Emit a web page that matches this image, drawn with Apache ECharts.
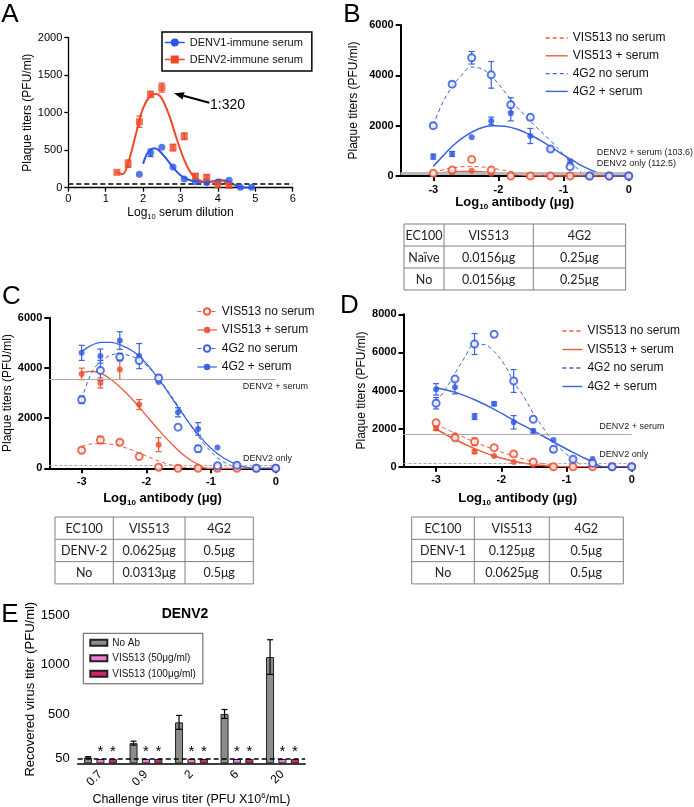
<!DOCTYPE html>
<html><head><meta charset="utf-8">
<script src="https://cdn.jsdelivr.net/npm/echarts@6/dist/echarts.min.js"></script>
<style>html,body{margin:0;padding:0;background:#fff}#c{width:694px;height:807px}</style>
</head><body><div id="c"></div>
<script>
// ================= DATA =================
// Panel A
const aX1 = [1.9, 2.2, 2.5, 2.8, 3.1, 3.4, 3.7, 4.0, 4.3, 4.6, 4.9];
const aDenv1 = [180, 465, 540, 275, 115, 80, 70, 75, 100, 5, 5];
const aDenv1Err = [0, 50, 0, 0, 0, 0, 0, 0, 0, 0, 0];
const aX2 = [1.3, 1.6, 1.9, 2.2, 2.5, 2.8, 3.1, 3.4, 3.7, 4.0, 4.3];
const aDenv2 = [205, 320, 880, 1245, 1335, 535, 685, 155, 140, 40, 30];
const aDenv2Err = [0, 50, 75, 40, 60, 45, 45, 30, 30, 0, 0];
const aFit1X = [2.0, 2.1, 2.2, 2.3, 2.4, 2.6, 2.8, 3.0, 3.2, 3.4, 3.6, 3.8, 4.0, 4.2, 4.4, 4.6, 4.9];
const aFit1Y = [320, 450, 505, 525, 505, 400, 270, 165, 110, 85, 75, 80, 95, 95, 50, 5, 0];
const aFit2X = [1.3, 1.45, 1.6, 1.8, 2.0, 2.2, 2.35, 2.5, 2.7, 2.9, 3.1, 3.3, 3.5, 3.7, 3.9, 4.05, 4.2, 4.3];
const aFit2Y = [205, 180, 330, 700, 1060, 1230, 1250, 1190, 960, 650, 370, 180, 100, 70, 85, 110, 70, 20];
const aLimit = 50;

// shared antibody dilution positions (log10 ug)
const abX = [-3, -2.71, -2.41, -2.11, -1.81, -1.51, -1.2, -0.9, -0.6, -0.3, 0];
const abTicks = [-3, -2, -1, 0];

// Panel B
const b4G2No = [2000, 3650, 4700, 4020, 2830, 2330, 1070, 370, 0, 0, 0];
const b4G2NoErr = [100, 100, 250, 530, 280, 100, 0, 0, 0, 0, 0];
const b4G2Ser = [770, 875, 1540, 2190, 2490, 1590, 1070, 545, 0, 0, 0];
const b4G2SerErr = [100, 100, 0, 150, 300, 300, 0, 120, 0, 0, 0];
const bVisNo = [110, 240, 660, 240, 0, 0, 0, 0, 0, 0, 0];
const bVisSer = [80, 150, 210, 90, 0, 0, 0, 0, 0, 0, 0];
const bFit4G2NoX = [-3, -2.85, -2.71, -2.55, -2.42, -2.25, -2.1, -1.95, -1.8, -1.5, -1.2, -0.92, -0.75, -0.65];
const bFit4G2NoY = [2030, 2950, 3550, 4050, 4330, 4250, 3950, 3500, 3000, 2150, 1400, 640, 200, 0];
const bFit4G2SerX = [-3, -2.85, -2.7, -2.5, -2.3, -2.1, -1.9, -1.7, -1.5, -1.3, -1.1, -0.9, -0.7, -0.5, -0.32, 0];
const bFit4G2SerY = [380, 800, 1200, 1600, 1880, 2000, 1980, 1850, 1620, 1330, 1000, 680, 380, 150, 0, 0];
const bFitVisNoX = [-3, -2.8, -2.6, -2.45, -2.3, -2.1, -1.9, -1.7, -1.5, -1.3, -1.1, 0];
const bFitVisNoY = [130, 280, 360, 380, 370, 310, 220, 130, 60, 15, 0, 0];
const bFitVisSerX = [-3, -2.8, -2.6, -2.4, -2.2, -2.0, -1.8, -1.6, -1.4, 0];
const bFitVisSerY = [90, 150, 180, 180, 160, 120, 70, 30, 0, 0];
const bRefSerum = 103.6, bRefOnly = 112.5;
const bTable = [['EC100', 'VIS513', '4G2'], ['Naïve', '0.0156μg', '0.25μg'], ['No', '0.0156μg', '0.25μg']];

// Panel C
const c4G2Ser = [4600, 4470, 5090, 4470, 3440, 2230, 1570, 830, 150, 0, 0];
const c4G2SerErr = [300, 280, 350, 500, 0, 180, 250, 0, 0, 0, 0];
const c4G2No = [2730, 3900, 4430, 4290, 3600, 1640, 780, 100, 120, 0, 0];
const c4G2NoErr = [150, 400, 150, 0, 120, 0, 130, 0, 0, 0, 0];
const cVisSer = [3760, 3400, 3940, 2540, 940, 40, 0, 0, 0, 0, 0];
const cVisSerErr = [230, 200, 400, 200, 280, 0, 0, 0, 0, 0, 0];
const cVisNo = [720, 1130, 1040, 470, 40, 0, 0, 0, 0, 0, 0];
const cVisNoErr = [100, 150, 60, 0, 0, 0, 0, 0, 0, 0, 0];
const cFit4G2SerX = [-3, -2.85, -2.7, -2.55, -2.4, -2.2, -2.0, -1.8, -1.6, -1.4, -1.2, -1.0, -0.8, -0.6, -0.45, -0.3, 0];
const cFit4G2SerY = [4650, 4900, 5020, 5020, 4920, 4650, 4180, 3520, 2780, 2030, 1350, 800, 400, 150, 40, 0, 0];
const cFit4G2NoX = [-3, -2.9, -2.8, -2.71, -2.6, -2.45, -2.3, -2.1, -1.9, -1.7, -1.5, -1.3, -1.1, -0.9, -0.7, -0.55, 0];
const cFit4G2NoY = [2750, 3500, 4000, 4250, 4450, 4560, 4520, 4300, 3850, 3200, 2450, 1650, 950, 420, 120, 0, 0];
const cFitVisSerX = [-3, -2.85, -2.7, -2.55, -2.4, -2.2, -2.0, -1.8, -1.6, -1.4, -1.2, -1.05, 0];
const cFitVisSerY = [3820, 3860, 3780, 3550, 3220, 2700, 2100, 1500, 950, 480, 150, 0, 0];
const cFitVisNoX = [-3, -2.85, -2.7, -2.5, -2.3, -2.1, -1.9, -1.7, -1.5, -1.3, -1.15, 0];
const cFitVisNoY = [880, 970, 990, 940, 800, 600, 380, 190, 70, 10, 0, 0];
const cRefSerum = 3550, cRefOnly = 130;
const cTable = [['EC100', 'VIS513', '4G2'], ['DENV-2', '0.0625μg', '0.5μg'], ['No', '0.0313μg', '0.5μg']];

// Panel D
const d4G2No = [3330, 4600, 6440, 6950, 4500, 2490, 910, 390, 180, 0, 0];
const d4G2NoErr = [300, 0, 550, 0, 600, 0, 150, 0, 0, 0, 0];
const d4G2Ser = [4060, 4170, 2630, 3300, 2330, 1870, 1400, 380, 400, 0, 0];
const d4G2SerErr = [300, 350, 150, 100, 350, 100, 0, 0, 0, 0, 0];
const dVisNo = [2310, 1520, 1310, 1000, 670, 250, 0, 0, 0, 0, 0];
const dVisNoErr = [0, 0, 200, 0, 100, 0, 0, 0, 0, 0, 0];
const dVisSer = [2010, 1650, 790, 560, 250, 90, 0, 0, 0, 0, 0];
const dVisSerErr = [100, 0, 100, 0, 0, 0, 0, 0, 0, 0, 0];
const dFit4G2NoX = [-3, -2.85, -2.71, -2.55, -2.41, -2.25, -2.11, -1.95, -1.81, -1.65, -1.51, -1.35, -1.2, -1.05, -0.9, -0.75];
const dFit4G2NoY = [3400, 4100, 4900, 5800, 6440, 6400, 6050, 5350, 4450, 3650, 2800, 2000, 1310, 800, 400, 0];
const dFit4G2SerX = [-3, -2.7, -2.4, -2.1, -1.8, -1.5, -1.2, -0.9, -0.6, -0.45, 0];
const dFit4G2SerY = [4150, 3900, 3500, 3000, 2420, 1870, 1300, 750, 250, 0, 0];
const dFitVisNoX = [-3, -2.71, -2.41, -2.11, -1.81, -1.51, -1.2, -1.0, 0];
const dFitVisNoY = [2250, 1750, 1300, 900, 560, 270, 60, 0, 0];
const dFitVisSerX = [-3, -2.71, -2.41, -2.11, -1.81, -1.51, -1.25, -1.1, 0];
const dFitVisSerY = [1980, 1430, 950, 560, 290, 110, 20, 0, 0];
const dRefSerum = 1700, dRefOnly = 180;
const dTable = [['EC100', 'VIS513', '4G2'], ['DENV-1', '0.125μg', '0.5μg'], ['No', '0.0625μg', '0.5μg']];

// Panel E
const eCats = ['0.7', '0.9', '2', '6', '20'];
const eNoAb = [60, 205, 415, 500, 1075];
const eNoAbErr = [8, 20, 70, 45, 175];
const eVis50 = [45, 45, 45, 45, 45];
const eVis100 = [45, 45, 45, 45, 45];
const eLimit = 50;
const eTicksY = [50, 500, 1000, 1500];

// ================= STYLE =================
const FF = 'Liberation Sans, Arial, sans-serif';
const TF = 'Lato, Liberation Sans, sans-serif';
const RED = '#EE4A2A', BLUE = '#2D55E6';
const RED_L = '#EE5A3C', BLUE_L = '#3B62E0';
const GREY = '#8C8C8C', PINK = '#F47AD8', MAG = '#D2256C';
const plain = v => String(v);

const pairs = (xs, ys) => xs.map((x, i) => [x, ys[i]]);
const triples = (xs, ys, es) => xs.map((x, i) => [x, ys[i], es[i]]);
const strip = n => n.replace(/^[A-Z]:/, '');

function errBars(gi, xs, ys, es, color, cap, dx) {
  return {
    type: 'custom', xAxisIndex: gi, yAxisIndex: gi, z: 4, silent: true,
    data: triples(xs, ys, es), encode: { x: 0, y: 1 },
    renderItem(params, api) {
      const e = api.value(2); if (!e) return null;
      const x = api.value(0), y = api.value(1);
      const p1 = api.coord([x, y + e]), p2 = api.coord([x, y - e]);
      const o = dx || 0;
      const st = { stroke: color, lineWidth: 1.2 };
      return { type: 'group', children: [
        { type: 'line', shape: { x1: p1[0] + o, y1: p1[1], x2: p2[0] + o, y2: p2[1] }, style: st },
        { type: 'line', shape: { x1: p1[0] + o - cap, y1: p1[1], x2: p1[0] + o + cap, y2: p1[1] }, style: st },
        { type: 'line', shape: { x1: p2[0] + o - cap, y1: p2[1], x2: p2[0] + o + cap, y2: p2[1] }, style: st }
      ] };
    }
  };
}
function pts(gi, xs, ys, symbol, color, size) {
  return { type: 'scatter', xAxisIndex: gi, yAxisIndex: gi, z: 5, silent: true,
    data: pairs(xs, ys), symbol, symbolSize: size,
    itemStyle: { color: color, borderColor: color, borderWidth: symbol === 'emptyCircle' ? 1.3 : 0 } };
}
function curve(gi, name, xs, ys, color, width, dashed, symbol, extra) {
  return Object.assign({ type: 'line', name, xAxisIndex: gi, yAxisIndex: gi, z: 3, silent: true,
    data: pairs(xs, ys), smooth: 0.35, symbol: symbol || 'none', showSymbol: false,
    lineStyle: { color, width, type: dashed ? [4, 3] : 'solid' }, itemStyle: { color } }, extra || {});
}
function refLines(vals, styles) {
  return { silent: true, symbol: ['none', 'none'], label: { show: false },
    data: vals.map((v, i) => ({ yAxis: v, lineStyle: styles[i] })) };
}

const series = [];
// ----- A -----
series.push(curve(0, 'A:DENV1-immune serum', aFit1X, aFit1Y, BLUE, 2, false, 'circle',
  { markLine: refLines([aLimit], [{ color: '#000', width: 1.5, type: [5, 3] }]) }));
series.push(curve(0, 'A:DENV2-immune serum', aFit2X, aFit2Y, RED, 2, false, 'rect'));
series.push(errBars(0, aX1, aDenv1, aDenv1Err, BLUE, 3));
series.push(errBars(0, aX2, aDenv2, aDenv2Err, RED, 3));
series.push(pts(0, aX1, aDenv1, 'circle', BLUE, 7));
series.push(pts(0, aX2, aDenv2, 'rect', RED, 7));

// ----- B -----
series.push(curve(1, 'B:VIS513 no serum', bFitVisNoX, bFitVisNoY, RED_L, 1, true, 'none',
  { markLine: refLines([bRefSerum, bRefOnly], [{ color: '#b8b8b8', width: 2.5, type: 'solid' }, { color: '#b8b8b8', width: 2.5, type: 'solid' }]) }));
series.push(curve(1, 'B:VIS513 + serum', bFitVisSerX, bFitVisSerY, RED_L, 1.5, false));
series.push(curve(1, 'B:4G2 no serum', bFit4G2NoX, bFit4G2NoY, BLUE_L, 1, true));
series.push(curve(1, 'B:4G2 + serum', bFit4G2SerX, bFit4G2SerY, BLUE_L, 1.5, false));
series.push(errBars(1, abX, b4G2No, b4G2NoErr, BLUE_L, 3));
series.push(errBars(1, abX, b4G2Ser, b4G2SerErr, BLUE_L, 3));
series.push(pts(1, abX, bVisSer, 'circle', RED, 6));
series.push(pts(1, abX, bVisNo, 'emptyCircle', RED, 7));
series.push(pts(1, abX, b4G2Ser, 'circle', BLUE, 6));
series.push(pts(1, abX, b4G2No, 'emptyCircle', BLUE, 7));

// ----- C -----
series.push(curve(2, 'C:VIS513 no serum', cFitVisNoX, cFitVisNoY, RED_L, 1, true, 'emptyCircle',
  { markLine: refLines([cRefSerum, cRefOnly], [{ color: '#aaa', width: 1, type: 'solid' }, { color: '#aaa', width: 1, type: [3, 2] }]) }));
series.push(curve(2, 'C:VIS513 + serum', cFitVisSerX, cFitVisSerY, RED_L, 1.3, false, 'circle'));
series.push(curve(2, 'C:4G2 no serum', cFit4G2NoX, cFit4G2NoY, BLUE_L, 1, true, 'emptyCircle'));
series.push(curve(2, 'C:4G2 + serum', cFit4G2SerX, cFit4G2SerY, BLUE_L, 1.3, false, 'circle'));
series.push(errBars(2, abX, c4G2Ser, c4G2SerErr, BLUE_L, 3));
series.push(errBars(2, abX, c4G2No, c4G2NoErr, BLUE_L, 3));
series.push(errBars(2, abX, cVisSer, cVisSerErr, RED_L, 3));
series.push(errBars(2, abX, cVisNo, cVisNoErr, RED_L, 3));
series.push(pts(2, abX, cVisSer, 'circle', RED, 6));
series.push(pts(2, abX, cVisNo, 'emptyCircle', RED, 7));
series.push(pts(2, abX, c4G2Ser, 'circle', BLUE, 6));
series.push(pts(2, abX, c4G2No, 'emptyCircle', BLUE, 7));

// ----- D -----
series.push(curve(3, 'D:VIS513 no serum', dFitVisNoX, dFitVisNoY, RED_L, 1, true, 'none',
  { markLine: refLines([dRefSerum, dRefOnly], [{ color: '#aaa', width: 1, type: 'solid' }, { color: '#aaa', width: 1, type: [3, 2] }]) }));
series.push(curve(3, 'D:VIS513 + serum', dFitVisSerX, dFitVisSerY, RED_L, 1.5, false));
series.push(curve(3, 'D:4G2 no serum', dFit4G2NoX, dFit4G2NoY, BLUE_L, 1, true));
series.push(curve(3, 'D:4G2 + serum', dFit4G2SerX, dFit4G2SerY, BLUE_L, 1.5, false));
series.push(errBars(3, abX, d4G2No, d4G2NoErr, BLUE_L, 3));
series.push(errBars(3, abX, d4G2Ser, d4G2SerErr, BLUE_L, 3));
series.push(errBars(3, abX, dVisNo, dVisNoErr, RED_L, 3));
series.push(errBars(3, abX, dVisSer, dVisSerErr, RED_L, 3));
series.push(pts(3, abX, dVisSer, 'circle', RED, 6));
series.push(pts(3, abX, dVisNo, 'emptyCircle', RED, 7));
series.push(pts(3, abX, d4G2Ser, 'circle', BLUE, 6));
series.push(pts(3, abX, d4G2No, 'emptyCircle', BLUE, 7));

// ----- E -----
const BW = 8, BGAP = 0.55;
const starLabel = { show: true, position: 'top', formatter: '*', fontSize: 15, color: '#000', distance: 0, fontFamily: FF };
series.push({ type: 'bar', name: 'No Ab', xAxisIndex: 4, yAxisIndex: 4, data: eNoAb, barWidth: BW, barGap: (BGAP * 100) + '%',
  itemStyle: { color: GREY, borderColor: '#222', borderWidth: 1 },
  markLine: refLines([eLimit], [{ color: '#000', width: 1.5, type: [5, 3] }]) });
series.push({ type: 'bar', name: 'VIS513 (50μg/ml)', xAxisIndex: 4, yAxisIndex: 4, data: eVis50, barWidth: BW,
  itemStyle: { color: PINK, borderColor: '#222', borderWidth: 1 }, label: starLabel });
series.push({ type: 'bar', name: 'VIS513 (100μg/ml)', xAxisIndex: 4, yAxisIndex: 4, data: eVis100, barWidth: BW,
  itemStyle: { color: MAG, borderColor: '#222', borderWidth: 1 }, label: starLabel });
series.push(errBars(4, eCats.map((c, i) => i), eNoAb, eNoAbErr, '#000', 3, -(BW + BW * BGAP)));

// ================= AXES =================
const axLine = w => ({ onZero: false, lineStyle: { color: '#000', width: w } });
const boldLbl = { fontSize: 11, fontWeight: 'bold', color: '#000', fontFamily: FF, formatter: plain };
const subRich = (size, bold) => ({
  n: { fontSize: size, fontWeight: bold ? 'bold' : 'normal', color: '#000', fontFamily: FF, lineHeight: 16 },
  s: { fontSize: size * 0.62, fontWeight: bold ? 'bold' : 'normal', color: '#000', fontFamily: FF, lineHeight: 9, verticalAlign: 'bottom' },
  u: { fontSize: size * 0.62, color: '#000', fontFamily: FF, lineHeight: 9, verticalAlign: 'top' }
});
function abXAxis(gi, gap) {
  return { gridIndex: gi, type: 'value', min: -3.5, max: 0,
    axisLine: axLine(2), axisTick: { customValues: abTicks, length: 5, lineStyle: { width: 2, color: '#000' } },
    axisLabel: Object.assign({ customValues: abTicks, margin: 8 }, boldLbl), splitLine: { show: false },
    name: '{n|Log}{s|10}{n| antibody (μg)}', nameLocation: 'middle', nameGap: gap, nameTextStyle: { rich: subRich(13, true) } };
}
function plaqueY(gi, max, gap) {
  return { gridIndex: gi, type: 'value', min: 0, max, interval: 2000,
    axisLine: axLine(2), axisTick: { length: 5, lineStyle: { width: 2, color: '#000' } },
    axisLabel: Object.assign({ margin: 7 }, boldLbl), splitLine: { show: false },
    name: 'Plaque titers (PFU/ml)', nameLocation: 'middle', nameGap: gap,
    nameTextStyle: { fontSize: 12, color: '#000', fontFamily: FF } };
}
const xAxis = [
  { gridIndex: 0, type: 'value', min: 0, max: 6, interval: 1, axisLine: axLine(1.3),
    axisTick: { length: 4, lineStyle: { width: 1.3, color: '#000' } },
    axisLabel: { fontSize: 11, color: '#000', margin: 6, fontFamily: FF, formatter: plain }, splitLine: { show: false },
    name: '{n|Log}{s|10}{n| serum dilution}', nameLocation: 'middle', nameGap: 17, nameTextStyle: { rich: subRich(12, false) } },
  abXAxis(1, 18), abXAxis(2, 22), abXAxis(3, 24),
  { gridIndex: 4, type: 'category', data: eCats, axisLine: axLine(1.5),
    axisTick: { alignWithLabel: true, length: 4, lineStyle: { width: 1.3, color: '#000' } },
    axisLabel: { rotate: 45, fontSize: 12, color: '#000', margin: 9, fontFamily: FF },
    name: '{n|Challenge virus titer (PFU X10}{u|6}{n|/mL)}', nameLocation: 'middle', nameGap: 26,
    nameTextStyle: { rich: subRich(12.5, false) } }
];
const yAxis = [
  { gridIndex: 0, type: 'value', min: 0, max: 2000, interval: 500, axisLine: axLine(1.3),
    axisTick: { length: 4, lineStyle: { width: 1.3, color: '#000' } },
    axisLabel: { fontSize: 11, color: '#000', margin: 6, fontFamily: FF, formatter: plain }, splitLine: { show: false },
    name: 'Plaque titers (PFU/ml)', nameLocation: 'middle', nameGap: 34, nameTextStyle: { fontSize: 12, color: '#000', fontFamily: FF } },
  plaqueY(1, 6000, 41), plaqueY(2, 6000, 35), plaqueY(3, 8000, 33),
  { gridIndex: 4, type: 'value', min: 0, max: 1500, axisLine: axLine(1.5),
    axisTick: { customValues: eTicksY, length: 5, lineStyle: { width: 1.3, color: '#000' } },
    axisLabel: { customValues: eTicksY, fontSize: 13, color: '#000', margin: 8, fontFamily: FF, formatter: plain }, splitLine: { show: false },
    name: 'Recovered virus titer (PFU/ml)', nameLocation: 'middle', nameGap: 36, nameTextStyle: { fontSize: 13, color: '#000', fontFamily: FF } }
];
const grid = [
  { left: 68.3, top: 37.7, width: 224.4, height: 150 },
  { left: 400.7, top: 25, width: 228, height: 151 },
  { left: 49.3, top: 317.7, width: 226.4, height: 150.6 },
  { left: 403.5, top: 314.3, width: 228.2, height: 152.4 },
  { left: 77.7, top: 615, width: 227.5, height: 151 }
];

// ================= LEGENDS =================
const lgText = s => ({ fontSize: s, color: '#111', fontFamily: FF });
const legend = [
  { data: ['A:DENV1-immune serum', 'A:DENV2-immune serum'], formatter: strip, orient: 'vertical', left: 162, top: 32,
    borderColor: '#000', borderWidth: 1.5, padding: [5, 9, 6, 2], itemWidth: 20, itemHeight: 10, itemGap: 6,
    textStyle: lgText(11), selectedMode: false, lineStyle: { width: 1.5 } },
  { data: ['B:VIS513 no serum', 'B:VIS513 + serum', 'B:4G2 no serum', 'B:4G2 + serum'], formatter: strip, orient: 'vertical',
    left: 545, top: 32, padding: 0, itemWidth: 22, itemHeight: 10, itemGap: 5.8, textStyle: lgText(12), selectedMode: false,
    itemStyle: { opacity: 0 }, lineStyle: { width: 1.4 } },
  { data: ['C:VIS513 no serum', 'C:VIS513 + serum', 'C:4G2 no serum', 'C:4G2 + serum'], formatter: strip, orient: 'vertical',
    left: 196.7, top: 305.5, padding: 0, itemWidth: 19.5, itemHeight: 8, itemGap: 6.5, textStyle: lgText(12), selectedMode: false,
    lineStyle: { width: 1.2 } },
  { data: ['D:VIS513 no serum', 'D:VIS513 + serum', 'D:4G2 no serum', 'D:4G2 + serum'], formatter: strip, orient: 'vertical',
    left: 561.7, top: 325, padding: 0, itemWidth: 20, itemHeight: 10, itemGap: 6.5, textStyle: lgText(12), selectedMode: false,
    itemStyle: { opacity: 0 }, lineStyle: { width: 1.4 } },
  { data: ['No Ab', 'VIS513 (50μg/ml)', 'VIS513 (100μg/ml)'], orient: 'vertical', left: 83.3, top: 633.3,
    borderColor: '#555', borderWidth: 1, padding: [4.5, 7, 5, 6], icon: 'rect', itemWidth: 17, itemHeight: 6, itemGap: 5.5,
    textStyle: lgText(10), selectedMode: false }
];

// ================= GRAPHIC (labels, tables) =================
const G = [];
const txt = (x, y, text, font, align, fill) => G.push({ type: 'text', x, y, silent: true,
  style: { text, font, fill: fill || '#000', textAlign: align || 'left', textVerticalAlign: 'middle' } });
txt(10, 15, 'A', '26px ' + FF, 'center');
txt(352, 15, 'B', '26px ' + FF, 'center');
txt(11.5, 297, 'C', '26px ' + FF, 'center');
txt(349.5, 306, 'D', '26px ' + FF, 'center');
txt(10, 615, 'E', '26px ' + FF, 'center');
txt(210, 105, '1:320', '14px ' + FF, 'left');
G.push({ type: 'line', silent: true, shape: { x1: 183.5, y1: 95.8, x2: 209.3, y2: 102.7 }, style: { stroke: '#000', lineWidth: 2 } });
G.push({ type: 'polygon', silent: true, shape: { points: [[174, 93.3], [182.6, 99.6], [184.6, 92.3]] }, style: { fill: '#000' } });
txt(596.7, 152.3, 'DENV2 + serum (103.6)', '9px ' + FF, 'left', '#222');
txt(596.7, 164, 'DENV2 only (112.5)', '9px ' + FF, 'left', '#222');
txt(242.7, 386.7, 'DENV2 + serum', '9px ' + FF, 'left', '#222');
txt(243, 458.3, 'DENV2 only', '9px ' + FF, 'left', '#222');
txt(599.3, 426.7, 'DENV2 + serum', '9px ' + FF, 'left', '#222');
txt(599.3, 455, 'DENV2 only', '9px ' + FF, 'left', '#222');
txt(185, 614, 'DENV2', 'bold 14px ' + FF, 'center');

function table(left, top, colW, rowH, rows) {
  const W = colW.reduce((a, b) => a + b, 0), H = rowH * rows.length;
  const st = { stroke: '#808080', lineWidth: 1 };
  G.push({ type: 'rect', silent: true, shape: { x: left, y: top, width: W, height: H }, style: { fill: 'none', stroke: '#808080', lineWidth: 1 } });
  let cx = left;
  colW.forEach((w, j) => { if (j > 0) G.push({ type: 'line', silent: true, shape: { x1: cx, y1: top, x2: cx, y2: top + H }, style: st }); cx += w; });
  rows.forEach((r, i) => {
    if (i > 0) G.push({ type: 'line', silent: true, shape: { x1: left, y1: top + i * rowH, x2: left + W, y2: top + i * rowH }, style: st });
    let x = left;
    r.forEach((t, j) => {
      G.push({ type: 'text', silent: true, x: x + colW[j] / 2, y: top + i * rowH + rowH / 2 + 0.5,
        style: { text: t, font: '12.5px ' + TF, fill: '#222', textAlign: 'center', textVerticalAlign: 'middle' } });
      x += colW[j];
    });
  });
}
table(404, 224, [40, 89.3, 92.3], 22, bTable);
table(55, 517, [58.3, 71.7, 68.3], 22.3, cTable);
table(411.7, 517, [62.6, 75, 74], 22.3, dTable);

const chart = echarts.init(document.getElementById('c'), null, { renderer: 'canvas' });
chart.setOption({ animation: false, backgroundColor: '#fff', grid, xAxis, yAxis, legend, series, graphic: { elements: G } });
</script></body></html>
